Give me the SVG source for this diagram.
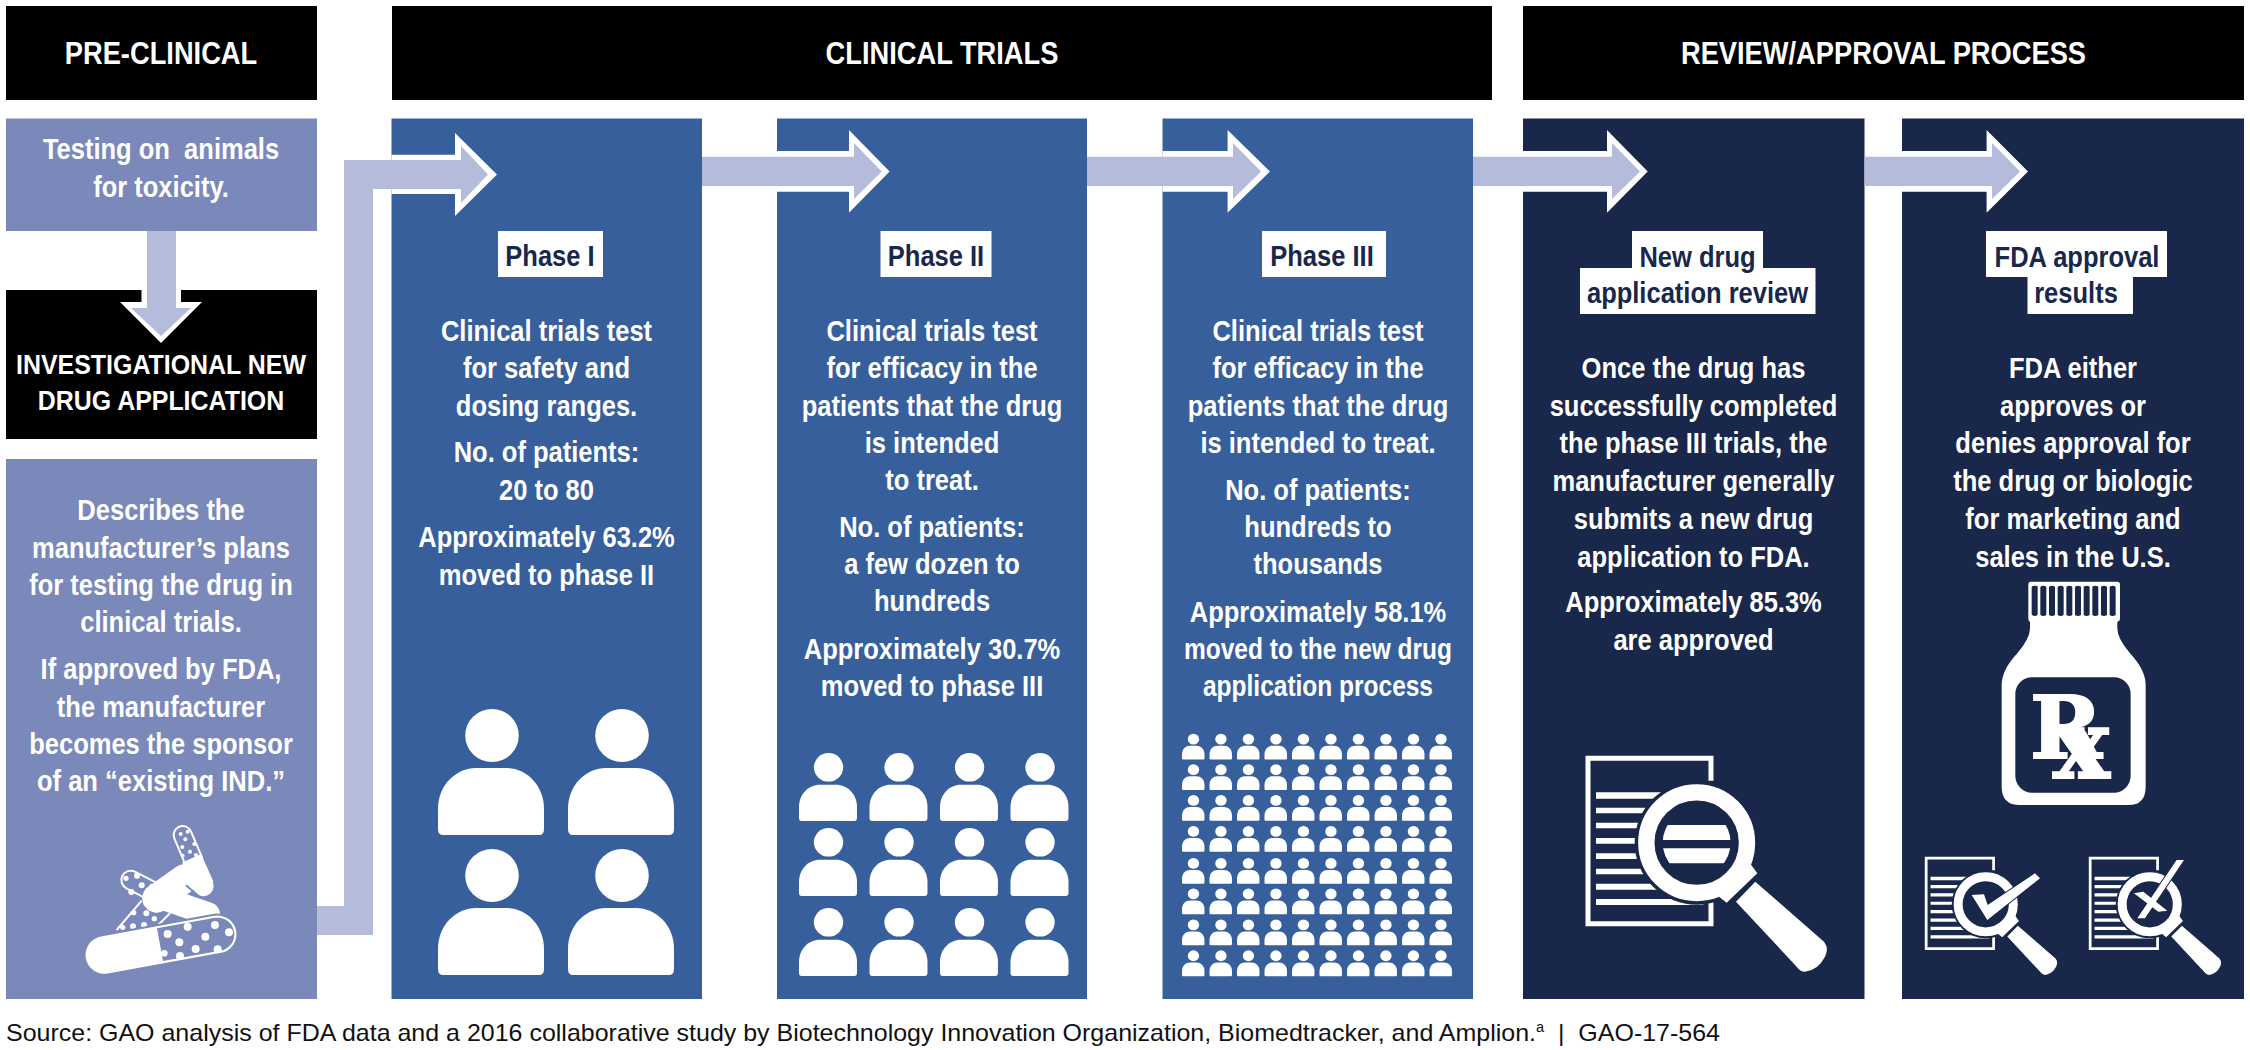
<svg xmlns="http://www.w3.org/2000/svg" width="2250" height="1050" viewBox="0 0 2250 1050">
<style>
text{font-family:"Liberation Sans",Arial,sans-serif;font-weight:700;fill:#fff;text-anchor:middle;white-space:pre}
.b{font-size:29px}
.h{font-size:31px}
.i{font-size:28.5px}
.lb text{fill:#18274a;font-size:29px}
.src{font-family:"Liberation Sans",Arial,sans-serif;font-weight:400;fill:#111;text-anchor:start;font-size:24px}
.light{fill:#7a88ba}.blue{fill:#375f9c}.navy{fill:#18274a}.blk{fill:#000}
.arr{fill:#b5bbdb}.hal{fill:#fff}
</style>
<defs>
<g id="p"><ellipse cx="54" cy="26.5" rx="26.8" ry="26.5" fill="#fff"/><path fill="#fff" d="M5 126Q0 126 0 120V100C0 76 18 59 38 59H68C88 59 106 76 106 100V120Q106 126 101 126Z"/></g>
<g id="r10"><use href="#p" transform="translate(0,0) scale(.212,.205)"/><use href="#p" transform="translate(27.5,0) scale(.212,.205)"/><use href="#p" transform="translate(55,0) scale(.212,.205)"/><use href="#p" transform="translate(82.5,0) scale(.212,.205)"/><use href="#p" transform="translate(110,0) scale(.212,.205)"/><use href="#p" transform="translate(137.5,0) scale(.212,.205)"/><use href="#p" transform="translate(165,0) scale(.212,.205)"/><use href="#p" transform="translate(192.5,0) scale(.212,.205)"/><use href="#p" transform="translate(220,0) scale(.212,.205)"/><use href="#p" transform="translate(247.5,0) scale(.212,.205)"/></g>
<g id="r4"><use href="#p" transform="scale(.547,.54)"/><use href="#p" transform="translate(70.5,0) scale(.547,.54)"/><use href="#p" transform="translate(141,0) scale(.547,.54)"/><use href="#p" transform="translate(211.5,0) scale(.547,.54)"/></g>
<g id="docmag">
<path fill="none" stroke="#fff" stroke-width="15" d="M423 122V55H54V551H423V487"/>
<path fill="#fff" d="M78 157H400V176H78ZM78 203H400V220H78ZM78 248H400V265H78ZM78 294H400V311H78ZM78 340H400V357H78ZM78 386H400V403H78ZM78 431H400V449H78ZM78 477H400V495H78Z"/>
<circle cx="380" cy="308" r="186" fill="#18274a"/>
<circle cx="380" cy="308" r="151" fill="none" stroke="#fff" stroke-width="49"/>
<path fill="#fff" d="M540 370L562 400L470 488L447 470Z"/>
<path fill="#fff" d="M498 485L556 425L762 605Q778 625 765 650Q745 690 705 695Q690 695 680 680Z"/>
</g>
<clipPath id="lens"><circle cx="380" cy="308" r="102"/></clipPath>
</defs>
<rect width="2250" height="1050" fill="#fff"/>

<g id="hdr-preclinical"><rect class="blk" x="6" y="6" width="311" height="94"/><text class="h" transform="translate(161,64) scale(.88,1)">PRE-CLINICAL</text></g>
<g id="hdr-clinical"><rect class="blk" x="392" y="6" width="1100" height="94"/><text class="h" transform="translate(942,64) scale(.88,1)">CLINICAL TRIALS</text></g>
<g id="hdr-review"><rect class="blk" x="1523" y="6" width="721" height="94"/><text class="h" transform="translate(1883.5,64) scale(.88,1)">REVIEW/APPROVAL PROCESS</text></g>

<g id="testing"><rect class="light" x="6" y="118.5" width="311" height="112.5"/>
<g class="b"><text transform="translate(161,159) scale(.88,1)">Testing on  animals</text><text transform="translate(161,197) scale(.88,1)">for toxicity.</text></g></g>

<g id="ind"><rect class="blk" x="6" y="290" width="311" height="149"/>
<g class="i"><text transform="translate(161,374) scale(.875,1)">INVESTIGATIONAL NEW</text><text transform="translate(161,410) scale(.875,1)">DRUG APPLICATION</text></g></g>

<g id="describes"><rect class="light" x="6" y="459" width="311" height="540"/>
<g class="b">
<text transform="translate(161,520) scale(.88,1)">Describes the</text>
<text transform="translate(161,558) scale(.88,1)">manufacturer’s plans</text>
<text transform="translate(161,595) scale(.88,1)">for testing the drug in</text>
<text transform="translate(161,632) scale(.88,1)">clinical trials.</text>
<text transform="translate(161,679) scale(.88,1)">If approved by FDA,</text>
<text transform="translate(161,717) scale(.88,1)">the manufacturer</text>
<text transform="translate(161,754) scale(.88,1)">becomes the sponsor</text>
<text transform="translate(161,791) scale(.88,1)">of an “existing IND.”</text>
</g>
<g id="pills" transform="translate(60,810) scale(.3333)" fill="none" stroke-linecap="round">
<path stroke="#fff" stroke-width="60" d="M368 75L400 150"/><path stroke="#7a88ba" stroke-width="48" d="M368 75L400 150"/>
<g fill="#fff"><circle cx="362" cy="72" r="6"/><circle cx="383" cy="65" r="6"/><circle cx="376" cy="88" r="6"/><circle cx="403" cy="102" r="6"/><circle cx="367" cy="111" r="6"/><circle cx="390" cy="125" r="6"/><circle cx="368" cy="137" r="6"/><circle cx="408" cy="135" r="6"/></g>
<path stroke="#fff" stroke-width="62" stroke-linecap="butt" d="M395 145L432 228"/><path stroke="#fff" stroke-width="62" d="M410 180L430 228"/>
<path stroke="#fff" stroke-width="62" d="M212 210L290 250"/><path stroke="#7a88ba" stroke-width="50" d="M212 210L300 255"/>
<g fill="#fff"><circle cx="198" cy="205" r="8"/><circle cx="231" cy="197" r="9"/><circle cx="245" cy="226" r="9"/><circle cx="214" cy="246" r="9"/><circle cx="275" cy="228" r="7"/></g>
<path stroke="#7a88ba" stroke-width="96" stroke-linecap="butt" d="M205 395L290 295"/>
<path stroke="#fff" stroke-width="6" stroke-linecap="butt" d="M170 360L245 272M330 310L288 352"/>
<g fill="#fff"><circle cx="188" cy="352" r="8"/><circle cx="219" cy="349" r="9"/><circle cx="252" cy="345" r="9"/><circle cx="221" cy="308" r="8"/><circle cx="259" cy="310" r="9"/><circle cx="283" cy="326" r="8"/><circle cx="258" cy="280" r="8"/></g>
<path stroke="#fff" stroke-width="86" d="M290 265L375 205"/>
<path stroke="#fff" stroke-width="70" d="M295 260L445 312"/>
<path stroke="#7a88ba" stroke-width="6" stroke-linecap="butt" d="M378 226L420 262"/>
<path stroke="#7a88ba" stroke-width="125" d="M133 435L473 373"/>
<path stroke="#fff" stroke-width="113" d="M133 435L473 373"/>
<path stroke="#7a88ba" stroke-width="100" stroke-linecap="butt" d="M300 404L470 373"/><path stroke="#7a88ba" stroke-width="100" d="M470 373L473 373"/>
<g fill="#fff"><circle cx="323" cy="372" r="12"/><circle cx="383" cy="350" r="12"/><circle cx="465" cy="345" r="12"/><circle cx="507" cy="367" r="12"/><circle cx="436" cy="380" r="12"/><circle cx="358" cy="397" r="12"/><circle cx="407" cy="417" r="12"/><circle cx="473" cy="418" r="12"/><circle cx="360" cy="438" r="12"/><circle cx="313" cy="430" r="10"/></g>
</g>
</g>

<g id="phase1"><rect class="blue" x="391.5" y="118.5" width="310.5" height="880.5"/>
<g class="lb"><rect x="498" y="231" width="105" height="46" fill="#fff"/><text transform="translate(550,266) scale(.88,1)">Phase I</text></g>
<g class="b">
<text transform="translate(546.5,341) scale(.88,1)">Clinical trials test</text>
<text transform="translate(546.5,378) scale(.88,1)">for safety and</text>
<text transform="translate(546.5,416) scale(.88,1)">dosing ranges.</text>
<text transform="translate(546.5,462) scale(.88,1)">No. of patients:</text>
<text transform="translate(546.5,500) scale(.88,1)">20 to 80</text>
<text transform="translate(546.5,547) scale(.88,1)">Approximately 63.2%</text>
<text transform="translate(546.5,585) scale(.88,1)">moved to phase II</text>
</g>
<use href="#p" transform="translate(438,709)"/><use href="#p" transform="translate(568,709)"/><use href="#p" transform="translate(438,849)"/><use href="#p" transform="translate(568,849)"/>
</g>

<g id="phase2"><rect class="blue" x="777" y="118.5" width="310" height="880.5"/>
<g class="lb"><rect x="880.5" y="231" width="111" height="46" fill="#fff"/><text transform="translate(936,266) scale(.88,1)">Phase II</text></g>
<g class="b">
<text transform="translate(932,341) scale(.88,1)">Clinical trials test</text>
<text transform="translate(932,378) scale(.88,1)">for efficacy in the</text>
<text transform="translate(932,416) scale(.88,1)">patients that the drug</text>
<text transform="translate(932,453) scale(.88,1)">is intended</text>
<text transform="translate(932,490) scale(.88,1)">to treat.</text>
<text transform="translate(932,537) scale(.88,1)">No. of patients:</text>
<text transform="translate(932,574) scale(.88,1)">a few dozen to</text>
<text transform="translate(932,611) scale(.88,1)">hundreds</text>
<text transform="translate(932,659) scale(.88,1)">Approximately 30.7%</text>
<text transform="translate(932,696) scale(.88,1)">moved to phase III</text>
</g>
<use href="#r4" transform="translate(799,753)"/><use href="#r4" transform="translate(799,828)"/><use href="#r4" transform="translate(799,908)"/>
</g>

<g id="phase3"><rect class="blue" x="1162.5" y="118.5" width="310.5" height="880.5"/>
<g class="lb"><rect x="1262" y="231" width="124" height="46" fill="#fff"/><text transform="translate(1322,266) scale(.88,1)">Phase III</text></g>
<g class="b">
<text transform="translate(1318,341) scale(.88,1)">Clinical trials test</text>
<text transform="translate(1318,378) scale(.88,1)">for efficacy in the</text>
<text transform="translate(1318,416) scale(.88,1)">patients that the drug</text>
<text transform="translate(1318,453) scale(.88,1)">is intended to treat.</text>
<text transform="translate(1318,500) scale(.88,1)">No. of patients:</text>
<text transform="translate(1318,537) scale(.88,1)">hundreds to</text>
<text transform="translate(1318,574) scale(.88,1)">thousands</text>
<text transform="translate(1318,622) scale(.88,1)">Approximately 58.1%</text>
<text transform="translate(1318,659) scale(.845,1)">moved to the new drug</text>
<text transform="translate(1318,696) scale(.845,1)">application process</text>
</g>
<use href="#r10" transform="translate(1182,733.7)"/><use href="#r10" transform="translate(1182,764.2)"/><use href="#r10" transform="translate(1182,795)"/><use href="#r10" transform="translate(1182,826)"/><use href="#r10" transform="translate(1182,858)"/><use href="#r10" transform="translate(1182,888.4)"/><use href="#r10" transform="translate(1182,919.5)"/><use href="#r10" transform="translate(1182,950.3)"/>
</g>

<g id="nda"><rect class="navy" x="1523" y="118.5" width="341.5" height="880.5"/>
<g class="lb"><rect x="1632" y="231" width="131" height="40" fill="#fff"/><rect x="1580" y="268" width="235.5" height="46" fill="#fff"/><text transform="translate(1697.5,266.5) scale(.88,1)">New drug</text><text transform="translate(1697.5,303) scale(.88,1)">application review</text></g>
<g class="b">
<text transform="translate(1693.5,378) scale(.88,1)">Once the drug has</text>
<text transform="translate(1693.5,416) scale(.88,1)">successfully completed</text>
<text transform="translate(1693.5,453) scale(.88,1)">the phase III trials, the</text>
<text transform="translate(1693.5,491) scale(.88,1)">manufacturer generally</text>
<text transform="translate(1693.5,529) scale(.88,1)">submits a new drug</text>
<text transform="translate(1693.5,567) scale(.88,1)">application to FDA.</text>
<text transform="translate(1693.5,612) scale(.88,1)">Approximately 85.3%</text>
<text transform="translate(1693.5,650) scale(.88,1)">are approved</text>
</g>
<g transform="translate(1570,740) scale(.3333)"><use href="#docmag"/><g clip-path="url(#lens)"><path fill="#fff" d="M270 255H490V300H270ZM270 325H490V370H270Z"/></g></g>
</g>

<g id="fda"><rect class="navy" x="1902" y="118.5" width="342" height="880.5"/>
<g class="lb"><rect x="1986" y="231" width="181" height="46" fill="#fff"/><rect x="2027.5" y="276" width="105.5" height="38" fill="#fff"/><text transform="translate(2077,266.5) scale(.88,1)">FDA approval</text><text transform="translate(2076,303) scale(.88,1)">results</text></g>
<g class="b">
<text transform="translate(2073,378) scale(.88,1)">FDA either</text>
<text transform="translate(2073,416) scale(.88,1)">approves or</text>
<text transform="translate(2073,453) scale(.88,1)">denies approval for</text>
<text transform="translate(2073,491) scale(.88,1)">the drug or biologic</text>
<text transform="translate(2073,529) scale(.88,1)">for marketing and</text>
<text transform="translate(2073,567) scale(.88,1)">sales in the U.S.</text>
</g>
<g id="bottle" transform="translate(1980,570) scale(.3333)">
<path fill="#fff" d="M152 35H412Q420 35 420 45V145Q420 155 412 155V175Q412 205 450 250Q497 300 497 345V650Q497 705 445 705H120Q65 705 65 650V345Q65 300 112 250Q150 205 150 175V155Q145 155 145 145V45Q145 35 152 35Z"/>
<path fill="#18274a" d="M155 52Q155 47 165 47T173 52V133Q173 138 165 138T155 133ZM181 52Q181 47 190 47T199 52V133Q199 138 190 138T181 133ZM207 52Q207 47 216 47T225 52V133Q225 138 216 138T207 133ZM233 52Q233 47 242 47T251 52V133Q251 138 242 138T233 133ZM259 52Q259 47 268 47T277 52V133Q277 138 268 138T259 133ZM285 52Q285 47 294 47T303 52V133Q303 138 294 138T285 133ZM311 52Q311 47 320 47T329 52V133Q329 138 320 138T311 133ZM337 52Q337 47 346 47T355 52V133Q355 138 346 138T337 133ZM363 52Q363 47 372 47T381 52V133Q381 138 372 138T363 133ZM389 52Q389 47 398 47T407 52V133Q407 138 398 138T389 133Z"/>
<rect x="106" y="322" width="346" height="346" rx="50" fill="#18274a"/>
<text style="font-family:'DejaVu Serif',serif;font-size:260px;text-anchor:start;stroke:#fff;stroke-width:6px" x="150" y="565">R<tspan font-size="285" dx="-147" dy="60">x</tspan></text>
</g>
<g transform="translate(1916.3,848) scale(.1827)"><use href="#docmag"/></g>
<path id="check" transform="translate(1910,840) scale(.3333)" fill="#fff" stroke="#18274a" stroke-width="6" paint-order="stroke" d="M185 165L222 163L233 195L375 100L390 115L232 240Z"/>
<g transform="translate(2080.3,848) scale(.1827)"><use href="#docmag"/></g>
<path id="cross" transform="translate(1910,840) scale(.3333)" fill="#fff" stroke="#18274a" stroke-width="6" paint-order="stroke" d="M800 60H822L705 235H682ZM672 160L700 155L772 212L745 215Z"/>
</g>

<g id="connectors">
<path class="hal" d="M391.5 154.7H455V133L497 174.5L455 216V194H391.5Z"/>
<path class="hal" d="M777 151H849V130L889.6 171.5L849 212.7V191.7H777Z"/>
<path class="hal" d="M1162.5 151H1227.6V130L1270 171.5L1227.6 212.7V191.7H1162.5Z"/>
<path class="hal" d="M1523 151H1607V130L1647.7 171.5L1607 212.7V191.7H1523Z"/>
<path class="hal" d="M1902 151H1986.6V130L2028 171.5L1986.6 212.7V191.7H1902Z"/>
<path class="hal" d="M111 290H141.5V302H120L161 343L202 302H181V290Z"/>
<path class="arr" d="M147 231H176V308H191L161 336L131 308H147Z"/>
<path class="arr" d="M317 906H344V160H461V146L488 174.5L461 203V189H373V935H317Z"/>
<path class="arr" d="M702 156.7H854V143L881.7 171.5L854 199V186H702Z"/>
<path class="arr" d="M1087 156.7H1233V143L1261 171.5L1233 199V186H1087Z"/>
<path class="arr" d="M1473 156.7H1612V143L1640 171.5L1612 199V186H1473Z"/>
<path class="arr" d="M1864.5 156.7H1992V143L2020 171.5L1992 199V186H1864.5Z"/>
</g>

<text class="src" id="source" x="6" y="1041" textLength="1714" lengthAdjust="spacingAndGlyphs">Source: GAO analysis of FDA data and a 2016 collaborative study by Biotechnology Innovation Organization, Biomedtracker, and Amplion.<tspan font-size="14" dy="-9">a</tspan><tspan dy="9">  |  GAO-17-564</tspan></text>
</svg>
